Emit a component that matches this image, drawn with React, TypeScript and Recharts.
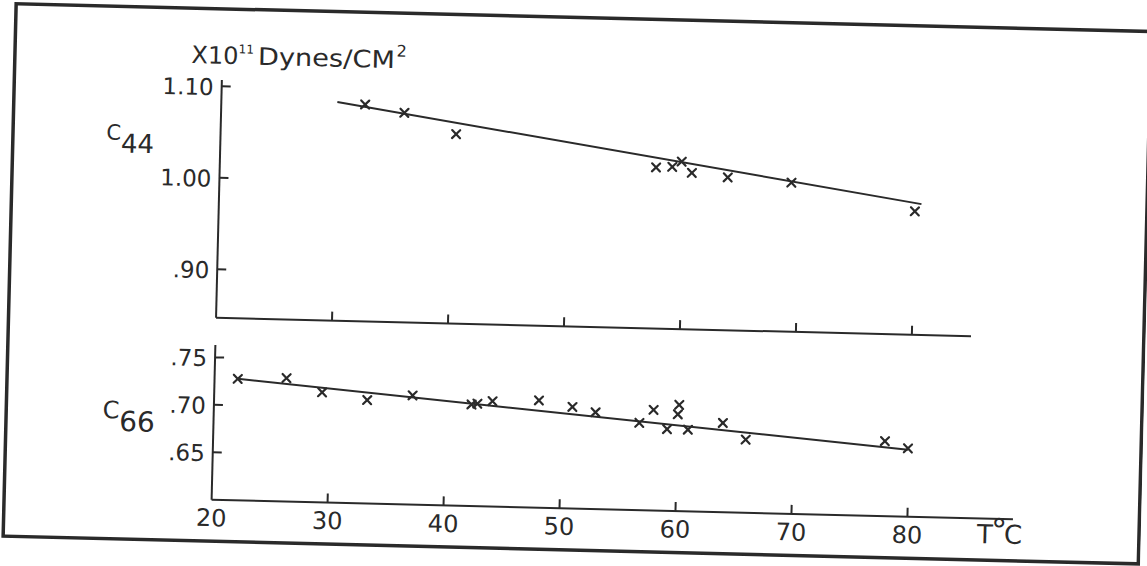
import React from 'react';
import { ComposedChart, Scatter, XAxis, YAxis, ReferenceLine } from 'recharts';

const INK = '#2a2a2a';
const FONT = '"DejaVu Sans", "Liberation Sans", sans-serif';

// Temperature (T °C) axis
const tempDomain: [number, number] = [20, 89.1];
const tempTicksTop = [30, 40, 50, 60, 70, 80];
const tempTicksBottom = [20, 30, 40, 50, 60, 70, 80];
const tempTickLabels = ['20', '30', '40', '50', '60', '70', '80'];
const tempAxisEndTop = 85.1;

// C44 panel
const c44Temps = [32.4, 35.8, 40.3, 57.6, 59.0, 59.8, 60.7, 63.8, 69.3, 80.0];
const c44Values = [1.084, 1.076, 1.054, 1.023, 1.024, 1.030, 1.018, 1.014, 1.010, 0.982];
const c44FitTemps = [30.0, 80.55];
const c44FitValues = [1.086, 0.990];
const c44Domain: [number, number] = [0.847, 1.107];
const c44Ticks = [0.9, 1.0, 1.1];
const c44TickLabels = ['.90', '1.00', '1.10'];

// C66 panel
const c66Temps = [22.0, 26.2, 29.3, 33.2, 37.1, 42.2, 42.7, 44.0, 48.0, 50.9, 52.9, 56.7, 57.9, 59.1, 60.1, 60.0, 60.9, 63.9, 65.9, 77.9, 79.9];
const c66Values = [0.728, 0.730, 0.716, 0.709, 0.715, 0.707, 0.708, 0.711, 0.713, 0.707, 0.702, 0.692, 0.706, 0.686, 0.712, 0.702, 0.686, 0.694, 0.677, 0.679, 0.672];
const c66FitTemps = [22.0, 79.9];
const c66FitValues = [0.728, 0.6705];
const c66Domain: [number, number] = [0.60, 0.763];
const c66Ticks = [0.65, 0.70, 0.75];
const c66TickLabels = ['.65', '.70', '.75'];

const c44Data = c44Temps.map((t, i) => ({ t, v: c44Values[i] }));
const c66Data = c66Temps.map((t, i) => ({ t, v: c66Values[i] }));

const Cross = (p: any) => {
  const { cx, cy } = p;
  if (cx == null || cy == null) return null;
  const s = 4;
  return (
    <g stroke={INK} strokeWidth={2.2} strokeLinecap="round">
      <line x1={cx - s} y1={cy - s} x2={cx + s} y2={cy + s} />
      <line x1={cx - s} y1={cy + s} x2={cx + s} y2={cy - s} />
    </g>
  );
};

const makeYTick = (ticks: number[], labels: string[]) => (p: any) => {
  const { x, y, payload } = p;
  const i = ticks.findIndex((t) => Math.abs(t - payload.value) < 1e-9);
  return (
    <g>
      <line x1={x} x2={x + 9} y1={y} y2={y} stroke={INK} strokeWidth={2} />
      <text x={x - 8} y={y} dy={9} textAnchor="end" fontSize={23} fontFamily={FONT} fill={INK}>
        {labels[i]}
      </text>
    </g>
  );
};

const TopXTick = (p: any) => {
  const { x, y } = p;
  return <line x1={x} x2={x} y1={y} y2={y - 9} stroke={INK} strokeWidth={2} />;
};

const BottomXTick = (p: any) => {
  const { x, y, payload } = p;
  const i = tempTicksBottom.indexOf(payload.value);
  return (
    <g>
      {payload.value !== tempTicksBottom[0] && (
        <line x1={x} x2={x} y1={y} y2={y - 9} stroke={INK} strokeWidth={2} />
      )}
      <text x={x} y={y + 26.5} textAnchor="middle" fontSize={24} fontFamily={FONT} fill={INK}>
        {tempTickLabels[i]}
      </text>
    </g>
  );
};

export default function App() {
  return (
    <div
      style={{
        position: 'absolute',
        left: 0,
        top: 0,
        width: 1147,
        height: 566,
        transform: 'rotate(1.4deg)',
        transformOrigin: '573.5px 283px',
        fontFamily: FONT,
      }}
    >
      <div style={{ position: 'absolute', left: 0, top: 0 }}>
        <ComposedChart
          width={1147}
          height={340}
          data={c44Data}
          margin={{ top: 88.6, right: 128.4, left: 157, bottom: 0.5 }}
        >
          <XAxis
            type="number"
            dataKey="t"
            domain={tempDomain}
            ticks={tempTicksTop}
            interval={0}
            axisLine={false}
            tickLine={false}
            tickSize={0}
            tickMargin={0}
            height={13}
            tick={TopXTick}
          />
          <YAxis
            type="number"
            dataKey="v"
            domain={c44Domain}
            ticks={c44Ticks}
            interval={0}
            axisLine={{ stroke: INK, strokeWidth: 2 }}
            tickLine={false}
            tickSize={0}
            tickMargin={0}
            width={60}
            tick={makeYTick(c44Ticks, c44TickLabels)}
          />
          <ReferenceLine
            segment={[
              { x: tempDomain[0], y: c44Domain[0] },
              { x: tempAxisEndTop, y: c44Domain[0] },
            ]}
            stroke={INK}
            strokeWidth={2}
            ifOverflow="visible"
          />
          <ReferenceLine
            segment={[
              { x: c44FitTemps[0], y: c44FitValues[0] },
              { x: c44FitTemps[1], y: c44FitValues[1] },
            ]}
            stroke={INK}
            strokeWidth={2}
            ifOverflow="visible"
          />
          <Scatter data={c44Data} dataKey="v" isAnimationActive={false} shape={Cross} />
        </ComposedChart>
      </div>

      <div style={{ position: 'absolute', left: 0, top: 340 }}>
        <ComposedChart
          width={1147}
          height={226}
          data={c66Data}
          margin={{ top: 13.8, right: 128.4, left: 157, bottom: 17.5 }}
        >
          <XAxis
            type="number"
            dataKey="t"
            domain={tempDomain}
            ticks={tempTicksBottom}
            interval={0}
            axisLine={{ stroke: INK, strokeWidth: 2 }}
            tickLine={false}
            tickSize={0}
            tickMargin={0}
            height={40}
            tick={BottomXTick}
          />
          <YAxis
            type="number"
            dataKey="v"
            domain={c66Domain}
            ticks={c66Ticks}
            interval={0}
            axisLine={{ stroke: INK, strokeWidth: 2 }}
            tickLine={false}
            tickSize={0}
            tickMargin={0}
            width={60}
            tick={makeYTick(c66Ticks, c66TickLabels)}
          />
          <ReferenceLine
            segment={[
              { x: c66FitTemps[0], y: c66FitValues[0] },
              { x: c66FitTemps[1], y: c66FitValues[1] },
            ]}
            stroke={INK}
            strokeWidth={2}
            ifOverflow="visible"
          />
          <Scatter data={c66Data} dataKey="v" isAnimationActive={false} shape={Cross} />
        </ComposedChart>
      </div>

      <svg
        width={1147}
        height={566}
        style={{ position: 'absolute', left: 0, top: 0, pointerEvents: 'none' }}
      >
        <rect x={9.5} y={17.5} width={1135.5} height={532.5} fill="none" stroke={INK} strokeWidth={3.5} />
        <text x={186} y={72.5} fontSize={24} fontFamily={FONT} fill={INK}>
          X10<tspan fontSize={12} dy={-11}>11</tspan>
        </text>
        <text
          x={252.5}
          y={72.5}
          fontSize={24}
          fontFamily={FONT}
          fill={INK}
          textLength={137}
          lengthAdjust="spacingAndGlyphs"
        >
          Dynes/CM
        </text>
        <text x={391} y={61} fontSize={16} fontFamily={FONT} fill={INK}>
          2
        </text>
        <text x={103} y={151} fontSize={21} fontFamily={FONT} fill={INK}>
          C<tspan fontSize={26} dy={12.5}>44</tspan>
        </text>
        <text x={106} y={429.5} fontSize={24} fontFamily={FONT} fill={INK}>
          C<tspan fontSize={28} dy={12.5}>66</tspan>
        </text>
        <text x={983} y={533} fontSize={26} fontFamily={FONT} fill={INK}>
          T<tspan fontSize={32} dx={-2} dy={-2}>°</tspan>
          <tspan dx={-3} dy={2}>C</tspan>
        </text>
      </svg>
    </div>
  );
}
